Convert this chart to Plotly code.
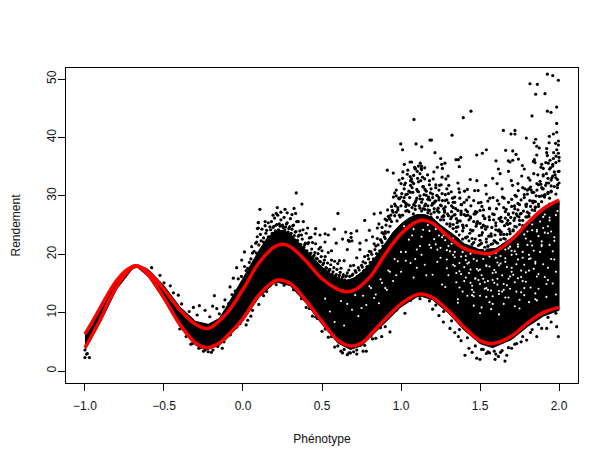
import plotly.graph_objects as go

# Red envelope curves
upper_x = [-1,-0.95,-0.9,-0.85,-0.8,-0.75,-0.7,-0.67,-0.6,-0.5,-0.4,-0.3,-0.22,-0.1,0,0.1,0.2,0.25,0.3,0.4,0.5,0.6,0.65,0.7,0.8,0.9,1.0,1.1,1.15,1.2,1.3,1.4,1.5,1.55,1.6,1.7,1.8,1.9,2.0]
upper_y = [6.3,8.6,11,13.4,15.5,17,17.9,18,17,14,10.5,8,7.3,10,14,18.5,21.3,21.7,21.3,18.8,15.8,14,13.6,13.8,16,20,23.5,25.6,25.8,25.3,23,21,20.2,20.1,20.5,22.5,25.3,27.8,29.3]
lower_x = [-1,-0.95,-0.9,-0.85,-0.8,-0.75,-0.7,-0.67,-0.6,-0.5,-0.4,-0.3,-0.23,-0.15,-0.1,0,0.1,0.2,0.22,0.3,0.4,0.5,0.6,0.68,0.75,0.85,1.0,1.1,1.13,1.2,1.3,1.4,1.5,1.58,1.7,1.8,1.9,2.0]
lower_y = [4.0,6.4,9,11.9,14.4,16.4,17.7,18,16.5,12.5,8,4.8,4.0,4.8,6,9,13,15.4,15.6,15,12,8.5,5.3,4.3,4.8,7.5,11.5,13.1,13.2,12.6,10.3,7.5,5.2,4.7,6,8.2,10,10.9]

# Solid mass of overlapping points: top and bottom edges
mass_top_x = [-1,-0.9,-0.8,-0.7,-0.67,-0.6,-0.5,-0.4,-0.3,-0.22,-0.15,-0.1,-0.05,0,0.05,0.1,0.15,0.2,0.25,0.3,0.35,0.4,0.45,0.5,0.55,0.6,0.65,0.7,0.75,0.8,0.85,0.9,0.95,1.0,1.05,1.1,1.15,1.2,1.25,1.3,1.35,1.4,1.5,1.6,1.7,1.8,1.9,2.0]
mass_top_y = [6.5,11.2,15.7,18.1,18.2,17.4,14.6,11,8.5,8,9,11.2,13.6,15.9,18.2,20.6,22.7,23.9,24.1,23.5,22.1,20.7,19.3,17.8,16.8,15.9,15.5,15.9,16.9,18.3,19.9,21.9,23.8,25.2,26.2,26.8,26.8,26.2,25,24,23,21.8,20.8,21,22.8,25.3,27.6,29.2]
mass_bot_x = [-1,-0.9,-0.8,-0.7,-0.67,-0.6,-0.5,-0.4,-0.3,-0.23,-0.15,-0.1,0,0.1,0.2,0.22,0.3,0.4,0.5,0.6,0.68,0.75,0.85,1.0,1.1,1.13,1.2,1.3,1.4,1.5,1.58,1.7,1.8,1.9,2.0]
mass_bot_y = [3.6,8.5,14,17.5,17.8,16.2,12.2,7.6,4.4,3.6,4.4,5.6,8.6,12.6,15.1,15.2,14.6,11.6,8,4.8,3.7,4.3,7,11,12.7,12.8,12.2,9.9,7,4.7,4,5.4,7.6,9.4,10.4]

# Individually readable points above and below the mass
far_x = [1.926,1.96,1.996,1.816,1.863,1.852,1.911,1.985,1.926,1.949,1.829,1.443,1.394,1.082,1.985,1.648,1.721,1.696,1.721,1.323,1.985,1.964,1.939,1.793,1.852,1.183,1.193,0.998,1.095,1.131,1.01,1.996,1.996,1.937,1.842,1.859,1.875,1.215,1.54,1.515,1.479,1.662,1.707,1.728,1.743,1.679,1.707,1.69,1.922,1.922,1.996,1.981,1.964,1.943,1.916,1.89,1.859,1.844,1.848,1.378,1.363,1.348,1.251,1.278,1.257,1.23,1.262,1.369,1.601,1.616,1.627,1.067,1.057,0.913,0.951,1.021,1.11,1.13,1.15,1.13,1.09]
far_y = [50.85,50.6,49.8,49.2,49.1,47.4,47.5,45.2,44.5,44.3,43.7,44.5,43.4,43.1,42.4,41.2,41.2,40.6,40.6,40.4,40.9,40.6,40.2,39.9,39.7,39.55,39.55,38.9,38.9,38.4,37.9,39.4,38.7,39.1,39.1,38.5,38.2,37.4,37.9,37.3,37,37.8,37.7,37.1,36.3,36,36.1,35.8,38.1,37.4,37.3,36.8,36.4,36.1,35.7,35.4,37,36.2,35.7,36.6,36.2,36.2,36.4,35.6,35.4,34.9,34.7,35,36,34.6,33.8,35.8,35.8,34.4,33.9,35.4,35.1,35.1,34.8,34.5,34.7]

mid_x = [0.92,0.95,0.97,0.99,1.01,1.03,1.05,1.07,1.08,1.1,1.12,1.14,1.16,1.18,1.2,1.22,1.24,1.26,1.28,1.3,1.32,1.34,1.36,1.38,1.4,1.42,1.44,1.46,1.48,1.5,1.52,1.54,1.56,1.58,1.6,1.62,1.64,1.66,1.68,1.7,1.72,1.74,1.76,1.78,1.8,1.82,1.84,1.86,1.88,1.9,1.92,1.94,1.96,1.98,2.0,
0.88,0.91,0.94,0.96,0.98,1.0,1.02,1.04,1.06,1.09,1.11,1.13,1.15,1.17,1.19,1.21,1.23,1.25,1.27,1.29,1.31,1.33,1.35,1.37,1.39,1.41,1.43,1.45,1.47,1.49,1.51,1.53,1.55,1.57,1.59,1.61,1.63,1.65,1.67,1.69,1.71,1.73,1.75,1.77,1.79,1.81,1.83,1.85,1.87,1.89,1.91,1.93,1.95,1.97,1.99,
0.87,0.9,0.93,0.96,0.99,1.02,1.05,1.08,1.11,1.14,1.17,1.2,1.23,1.26,1.29,1.32,1.35,1.38,1.41,1.44,1.47,1.5,1.53,1.56,1.59,1.62,1.65,1.68,1.71,1.74,1.77,1.8,1.83,1.86,1.89,1.92,1.95,1.98,2.0,
0.97,1.0,1.03,1.06,1.09,1.12,1.15,1.18,1.21,1.24,1.27,1.3,1.33,1.36,1.39,1.42,1.45,1.48,1.51,1.54,1.57,1.6,1.63,1.66,1.69,1.72,1.75,1.78,1.81,1.84,1.87,1.9,1.93,1.96,1.99,
1.03,1.07,1.12,1.17,1.22,1.27,1.31,1.36,1.41,1.46,1.5,1.55,1.6,1.65,1.7,1.75,1.8,1.85,1.9,1.95,2.0,1.94,1.88,1.83,1.78,1.73,1.68,1.63,1.58,1.53,1.48,1.43,1.38,1.33,1.28,1.24,1.19,1.14,1.09,1.04]
mid_y = [26.5,27.2,31,29.5,33,30.2,28.4,31.4,33.5,29.6,33.8,31.5,30.1,32.6,28.7,31.9,29.3,33.2,28.1,30.4,27.3,29.8,32.2,26.8,28.9,31.1,26.4,29.2,32.6,27.5,25,30.3,27.8,33,24.9,28.6,31.2,26.2,34.2,29.4,24.8,32.1,27,34.6,30.3,28.2,33.8,31,26.9,34.7,32.2,29.6,35.4,33.1,36,
24.6,25.8,28.2,30.5,28,32.1,29,27.5,32.6,28.3,30.7,28.9,32.9,29.4,31.2,27.8,30,28.4,26.5,31.2,25.2,28,26.1,30.6,25,27.6,29.8,24,26.9,28.8,24.6,26.2,29.1,23.5,26.8,29.2,23.8,28,25.3,23.9,27.1,29.9,25.8,31.4,28.5,26.5,30.6,29,28.2,31.4,30.1,33,31.7,34.1,32.8,
22.5,23.6,26,28.6,26.7,29.7,30.8,28.5,32.4,27.8,28.3,29.7,27.5,26.4,29.3,26.4,24.6,27.4,26.6,24.2,27.3,22.4,24.8,27.9,22.3,24.2,23.4,26.8,24.2,27.6,24.9,27.2,29.1,26.7,30,28.2,30.7,30.3,32.2,
27.2,29.8,28.2,30.6,28.9,29.5,28.3,27.5,28.8,27.2,27.8,26.6,25.1,25.7,24,23,22.7,25.3,23.3,22.1,23.1,22.1,25.7,22.6,25.3,26.2,28.5,29.7,31.2,29.1,31.9,33.6,30.4,33.4,31.4,
28.7,32.4,27.9,27.6,29.1,25.9,23.6,24.7,22.9,22,21.7,21.4,24.2,21.7,21.4,23.7,26.4,28,31.2,32.7,34.2,28.6,24.9,23.9,24.8,26.9,28.9,23.4,21.8,26.1,25.2,25.9,28.5,28.9,30.2,31,26.3,31.6,34.6,33.7]

# Dense speckle hugging the top of the mass on the right
dense_x = [0.88,0.89,0.9,0.905,0.92,0.925,0.93,0.94,0.945,0.96,0.965,0.975,0.98,0.985,0.995,1.0,1.005,1.01,1.015,1.02,1.03,1.035,1.04,1.05,1.055,1.06,1.07,1.075,1.08,1.09,1.095,1.1,1.105,1.115,1.12,1.125,
1.13,1.135,1.14,1.15,1.155,1.16,1.17,1.175,1.18,1.19,1.195,1.2,1.21,1.215,1.22,1.23,1.235,1.24,1.25,1.255,1.26,1.27,1.275,1.28,1.29,1.295,1.3,1.31,1.315,1.32,1.33,1.335,1.34,1.35,1.355,1.36,1.37,1.375,1.38,1.39,1.395,1.4,
1.41,1.415,1.42,1.43,1.435,1.44,1.45,1.455,1.46,1.47,1.475,1.48,1.49,1.495,1.5,1.51,1.515,1.52,1.53,1.535,1.54,1.55,1.555,1.56,1.57,1.575,1.58,1.59,1.595,1.6,1.61,1.615,1.62,1.63,1.635,1.64,1.65,1.655,1.66,1.67,1.675,1.68,1.69,1.695,1.7,
1.71,1.715,1.72,1.73,1.735,1.74,1.75,1.755,1.76,1.77,1.775,1.78,1.79,1.795,1.8,1.81,1.815,1.82,1.83,1.835,1.84,1.85,1.855,1.86,1.87,1.875,1.88,1.89,1.895,1.9,1.91,1.915,1.92,1.93,1.935,1.94,1.95,1.955,1.96,1.97,1.975,1.98,1.99,1.995,2.0]
dense_y = [22,23.5,22.7,25,23.8,26.2,24.8,25.6,27.5,26.6,28.3,25.7,27.6,29.6,26.4,28.3,30.4,26.7,29.1,31.2,27.4,28.6,30.3,27.3,29.7,31.8,28,30.6,32.1,27.7,29.2,31.1,33,28.3,30,32.6,
27.4,29.4,31.6,27.7,28.6,30.8,27.1,29.8,31.9,26.9,28.4,30.3,27.2,29.1,31.4,26.3,27.9,29.7,25.9,28.3,30.4,26.6,27.5,29.2,25.2,26.9,28.8,24.8,26.1,28.3,24.4,26.7,28.9,23.9,25.4,27.5,23.3,25.7,27.1,22.6,24.5,26.8,
22.8,24.9,27.3,22.3,23.6,26.2,21.7,24.1,25.6,22.6,24.8,27.2,21.5,23.2,25.3,21.9,23.7,26.6,21.2,24.3,22.6,21.4,23.1,25.9,21.7,24.6,26.9,22.3,23.3,25.4,21.9,24,26.1,22.5,23.8,25.6,22.7,24.9,27.3,23.4,25.1,26.9,23.5,26.3,28.2,
24,25.8,27.8,24.7,26.6,28.7,25.1,26.9,29.3,25.8,27.4,30.2,26.4,28.6,31,27,29.2,31.5,27.6,28.8,30.6,28.1,30,32.1,28.6,29.9,32.5,29,31.2,33.4,30.2,31.8,33.8,30.6,32.2,34.6,30.8,33.1,35.1,31.6,33.6,35.7,31.9,34.2,36.6]

# Further scattered points across the upper speckle
scatter_x = [0.9,0.935,0.97,1.012,1.028,1.043,1.066,1.086,1.103,1.122,1.136,1.152,1.168,1.186,1.204,1.226,1.244,1.262,1.284,1.302,1.326,1.342,1.366,1.384,1.402,1.424,1.442,1.466,1.484,1.506,1.522,1.546,1.562,1.586,1.604,1.626,1.642,1.666,1.684,1.706,1.722,1.746,1.764,1.784,1.806,1.824,1.846,1.866,1.886,1.906,1.926,1.946,1.966,1.986,
0.915,0.952,0.988,1.022,1.058,1.078,1.106,1.128,1.146,1.164,1.182,1.208,1.232,1.254,1.276,1.298,1.318,1.346,1.372,1.392,1.416,1.438,1.462,1.488,1.512,1.536,1.558,1.582,1.608,1.632,1.652,1.676,1.698,1.718,1.742,1.768,1.792,1.816,1.838,1.862,1.884,1.908,1.932,1.958,1.978,1.994,
0.56,0.59,0.61,0.63,0.66,0.69,0.72,0.74,0.77,0.8,0.83,0.85,0.87,0.43,0.46,0.49,0.52,0.28,0.31,0.24,0.19,0.14]
scatter_y = [23.9,26.7,30,34.1,32.2,34.4,32.9,34.9,34.2,35.6,33.2,31.1,33.6,30.5,32.9,30.1,31.8,29.2,32.9,31.8,29.6,26.8,31.2,28.5,30.8,26.7,28.3,30.9,25.6,28.9,27.6,24.7,29.6,25.9,27.8,24,29.8,27.7,24.3,31.8,30.1,26.4,33.4,31.2,33.1,31,27.5,33.6,34.9,30.1,36.9,34.8,37.4,37.9,
27.6,29.8,32.7,31.9,33.3,26.9,30.8,34.7,30.2,26.5,29.3,34.1,27.4,31.9,27.2,33.4,30.7,27.8,29.6,24.9,29.3,32.8,26.9,30.9,28.2,31.8,26.4,29.7,32.1,26.3,29.6,25.8,32.6,28.3,30.9,35.2,28.2,32.7,35.9,26.2,32,29.8,35.6,27.5,39,28.6,
20.6,21.9,18.9,22.6,20.8,22.3,24,21.9,25.8,24.1,26.9,24.5,27.1,22.9,24.4,21.2,23.5,27.1,26.8,27.2,26.7,25.6]

edge_x = [0.337,0.373,0.107,0.217,0.266,0.323,0.601,0.333,0.21,0.097,0.097,0.54,0.578,0.65,0.684,0.684,0.667,0.673,0.519,0.456,0.487,0.409,0.382,0.35,
0.09,0.12,0.14,0.16,0.18,0.2,0.22,0.24,0.26,0.28,0.3,0.32,0.34,0.36,0.38,0.4,0.42,0.44,0.46,0.48,0.5,0.52,0.54,0.56,0.58,0.6,0.62,0.64,0.66,0.68,0.7,0.72,0.74,0.76,0.78,0.8,0.82,0.84,0.86,0.88,0.9,
0.03,0.06,0.08,0.11,0.13,0.15,0.17,0.19,0.21,0.23,0.25,0.27,0.29,0.31,0.33,0.35,0.37,0.39,0.41,0.43,0.45,0.47,0.49,0.51,0.53,0.55,0.57,0.59,0.61,0.63,0.65,0.67,0.69,0.71,0.73,0.75,0.77,0.79,0.81,0.83,0.85,
0.009,0.055,0.087,-0.04,-0.008,-0.061,-0.082,-0.114,-0.124,0.091,0.097,
-0.181,-0.314,-0.276,-0.24,-0.192,-0.166,-0.409,-0.388,-0.525,-0.578,-0.29,-0.21,-0.15,-0.34,-0.46,-0.5,-0.44,
-0.09,-0.07,-0.05,-0.03,-0.01,0.01,0.02,0.04,0.05,0.07,0.085,0.1,0.115,0.13,0.145,0.16,0.175,0.185,0.195,0.205,0.215,0.225,0.235,0.245,0.255,0.265,0.275,0.285,0.295,0.305,0.315,0.325,0.335,0.345,0.355,0.365,0.375,0.385,0.395,0.405,0.415,0.425,0.435,0.445,0.455,0.465,0.475,0.485,0.495,0.505,0.515,0.525,0.535,0.545,0.555,0.565,0.575,0.585,0.595,0.605,0.615,0.625,0.635,0.645,0.655,0.665,0.675,0.685,0.695,0.705,0.715,0.725,0.735,0.745,0.755,0.765,0.775,0.785,0.795,0.805,0.815,0.825,0.835,0.845,0.855,0.865,0.875,0.885,0.895]
edge_y = [30.5,28.6,27.7,28,27.7,27.85,27,27,27,25.45,24.5,23.3,24.3,23.8,23.6,22.9,22.4,22.2,22.1,23.5,23.3,24.5,25.6,25.6,
23,24.3,24.9,25.4,25.6,26.2,26.7,25.9,26.3,25.4,26.1,25,25.6,24,24.2,23.6,22.8,22,21.8,20.9,20.6,19.6,20.3,19,18.8,18.4,17.6,18.9,16.8,18,18.1,19.4,20.8,18.7,22.4,20.5,23,21.4,25.2,23.7,26,
17.6,20.2,21.9,23.4,22.8,24.1,24.7,24.6,25,25.2,25,24.7,24.4,24.3,23.8,23.1,23.3,21.6,21.8,20.2,19.8,19.2,18.7,18.5,17.6,17.4,17,16.5,16.4,16.1,16.2,17.3,16.4,17.2,17.7,18.1,19.6,19.8,20.4,21.8,22.7,
20.4,21.3,22.1,17.7,19,15.9,14.4,12.2,11,24.4,25.4,
12.9,10.9,11.2,10.4,11.1,10.7,13,11.5,16.4,17.7,9.6,9.3,9.8,10.2,14.6,15.1,13.4,
11.6,13.1,13.7,15.8,16.2,17.9,17.2,18.6,19.2,20.5,20.2,21.6,22.3,22.1,23.6,23,24.2,23.6,24.8,24,25.1,24.2,24.8,23.9,24.6,24.2,25.2,23.8,24.7,23.6,24.9,23.2,23.9,22.4,23.3,21.7,22.6,21.2,21.9,20.6,22,20.1,20.9,19.6,20.3,19.3,20.1,18.8,19.6,18.2,19,17.7,18.5,17.2,18.2,16.6,17.7,16.3,17.4,16,16.9,15.7,16.5,15.6,16.3,15.4,16.2,15.5,16.6,15.8,16.9,16.2,17.3,16.6,17.8,17.2,18.5,17.9,19.2,18.6,20,19.2,20.8,20.1,21.6,20.6,22.3,21.4,23]

below_x = [1.405,1.479,1.5,1.595,1.658,1.616,1.54,1.669,1.732,1.795,1.859,1.996,1.922,1.985,1.363,1.31,1.268,1.025,0.93,0.878,1.56,1.63,1.45,1.7,1.76,1.82,1.89,1.95,1.34,1.38,1.43,1.52,1.6,1.2,1.24,0.9,0.84,0.78,0.72,0.66,0.62,0.58,0.54,0.5,0.46,
-1.0,-0.972,-0.985,-1.0,-0.99,-0.131,-0.019,-0.24,-0.28,-0.2,-0.33,0.02,0.05,0.1,0.17,0.03,0.35,0.4,0.44,0.7,0.63,0.76,0.82,0.67,
0.26,0.32,0.37,0.42,0.47,0.52,0.56,0.6,0.64,0.68,0.72,0.77,0.81,0.87,0.92,0.97,1.02,1.06,1.12,1.18,1.22,1.27,1.32,1.37,1.42,1.47,1.51,1.55,1.59,1.64,1.68,1.72,1.77,1.83,1.87,1.93,1.98,
-0.4,-0.36,-0.32,-0.27,-0.25,-0.22,-0.19,-0.16,-0.12,-0.08,-0.04,0.06,0.13,0.15,0.21]
below_y = [2.7,2.2,2,2,1.7,2.5,3,2.7,4.7,5.3,5.9,5.9,7.3,7.6,5.9,7.3,8.4,9.9,6.7,5.9,3.1,3.2,3.2,3.9,5,6.6,7.3,8.4,6.6,5.2,3.9,3.7,2.9,10.6,9.5,7.6,5.6,3.4,2.9,2.8,3.4,4.1,5.8,6.8,9.3,
2.3,2.3,3,3.6,2.9,3.9,8.1,3.6,3.9,3.2,4.6,7.9,9.4,11.4,14.6,8.7,13.6,10.9,9.4,3.3,3.1,3.4,5.5,3.1,
14.7,13.9,12.4,10.7,9,7.2,5.9,4.3,3.7,3.1,3.6,4.4,6,7.4,9.2,10.4,11.6,12.1,12.4,12,11.3,10.2,8.6,7.1,5.7,4.3,3.7,3.3,3.4,3.5,4,4.6,5.9,7.1,8,9.2,9.9,
7.2,5.9,4.7,4,3.4,3.3,3.6,4.2,5,6.2,7.5,10.4,12.9,13.6,14.8]

# Small gaps left between points inside the mass
gap_x = [0.62,0.66,0.71,0.75,0.8,0.83,0.87,0.9,0.93,0.95,0.98,1.0,1.03,1.06,1.08,1.1,1.13,1.15,1.18,1.2,1.22,1.25,1.27,1.29,1.31,1.33,1.35,1.37,1.39,1.41,1.43,1.45,1.47,1.49,1.5,1.52,1.54,1.56,1.58,1.6,1.62,1.64,1.66,1.68,1.7,1.72,1.74,1.76,1.78,1.8,1.82,1.84,1.86,1.88,1.9,1.92,1.94,1.96,1.98,
1.28,1.3,1.33,1.36,1.38,1.4,1.42,1.44,1.46,1.48,1.5,1.53,1.55,1.57,1.59,1.61,1.63,1.65,1.67,1.69,1.71,1.73,1.75,1.77,1.79,1.81,1.83,1.85,1.87,1.89,1.91,1.93,1.95,
1.02,1.07,1.12,1.17,1.21,1.26,1.32,1.37,1.41,1.45,1.48,1.52,1.56,1.6,1.64,1.68,1.72,1.76,1.8,1.84,1.88,1.92,1.96,
1.34,1.39,1.44,1.47,1.51,1.55,1.59,1.63,1.67,1.7,1.74,1.78,1.82,1.86,1.9,1.94,1.98,
1.36,1.4,1.46,1.5,1.53,1.58,1.62,1.66,1.71,1.75,1.79,1.83,1.87,
1.44,1.49,1.54,1.6,1.65,1.72,1.78,1.85,1.93,1.97,1.91,1.86,1.81,1.76,1.69,
1.09,1.14,1.19,1.24,1.29,1.34,1.38,1.43,1.47,1.51,1.56,1.61,1.66,1.7,1.74,1.79,1.83,1.87,1.91,1.95,1.99,
1.05,1.1,1.16,1.23,1.28,1.35,1.39,1.42,1.46,1.54,1.58,1.62,1.68,1.73,1.77,1.81,1.85,1.89,1.93,1.97,1.0,0.96,0.92,0.88,0.84,0.78,0.73,0.69,
1.22,1.26,1.3,1.34,1.38,1.42,1.46,1.5,1.54,1.58,1.62,1.66,1.7,1.74,1.78,1.82,1.86,1.9,1.94,1.98,
1.25,1.29,1.33,1.37,1.41,1.45,1.49,1.53,1.57,1.61,1.65,1.69,1.73,1.77,1.81,1.85,1.89,1.93,1.97,
1.03,1.08,1.13,1.18,1.23,0.76,0.81,0.86,0.91,0.97,0.64,0.58,0.55,0.52]
gap_y = [12,11.5,13,10.8,14.5,12.5,15.7,14.2,17,15.4,18.8,17,20.4,18.5,16,20.8,23,18.2,24,16.5,21.7,19.4,23.3,17.6,20.5,22.7,15.2,18.5,21.1,19.7,16.8,13.9,20.5,17.2,14.9,19.2,12.7,17.9,15.6,19.4,13.7,16.4,18.7,12.6,19.9,15.2,21.7,13.5,18.2,23.9,14.3,20.6,16.2,25.6,18.3,14.9,26.3,20.5,17,
22.4,16.4,19.9,12.3,23.1,17.8,20.7,15.1,11.2,18.9,12.9,20.8,15.4,10.6,17.3,14.8,19.7,11.5,17.8,14.1,22.8,18.3,12.2,20.4,15.3,11.8,24.1,18.7,14.1,22.2,16.1,23.6,19.2,
24.8,23.2,21.4,25,22.6,14.8,21.8,14.3,19,13,17.5,15.8,11.8,16.9,13.6,21,11.1,16.1,21.6,17.5,20.4,12.7,15,
18,13.6,17.4,15.8,10.9,13.9,15.1,18.4,14.7,17,15.9,14.2,19.3,12.1,24.5,21.6,13.1,
11.7,15.4,12.8,9.9,15.2,12.8,9.7,12.6,16.5,10.7,16.9,21.5,16.6,
20.1,21.1,18.1,20.2,13.9,20.5,13,13.3,24.8,19.1,23.7,24.2,19.2,17.2,21.3,
19.2,24.2,21.1,23.2,20.7,19.5,16.6,18.6,15.9,16.4,19.6,18.6,20.8,17.7,19.1,22.7,25.1,23.1,26.8,23.9,27.4,
22.5,17.7,16.4,20.8,14.4,16.8,20.4,12.9,13.5,14.2,11.5,13.2,15.8,20,15.4,19.9,12.3,21.4,17.7,22.9,20.4,19.2,17.2,15.1,13.1,11.3,9.4,10.5,
24.3,22.9,21.4,20.4,19.6,18.4,19.2,17.4,18,16.8,18.1,19.3,20.6,21.3,23.4,22.2,23.9,26.4,25.8,26.7,
21.1,19.1,18.2,17.1,16,14.6,15.6,14.1,13.8,15.8,14.9,16.2,13.6,19.4,17.2,18.4,21.6,15.6,22.3,
18.9,24.3,19.9,21.6,18.7,12.9,14.2,11.6,13.9,16.4,7.8,8.4,10.2,12.4]

x_ticks = [-1.0,-0.5,0.0,0.5,1.0,1.5,2.0]
x_tick_labels = ["−1.0","−0.5","0.0","0.5","1.0","1.5","2.0"]
y_ticks = [0,10,20,30,40,50]

fig = go.Figure()
fig.add_trace(go.Scatter(x=mass_top_x + mass_bot_x[::-1], y=mass_top_y + mass_bot_y[::-1],
                         mode="lines", fill="toself", fillcolor="black",
                         line=dict(color="black", width=1), hoverinfo="skip"))
for xs, ys in [(far_x, far_y), (mid_x, mid_y), (dense_x, dense_y), (scatter_x, scatter_y), (edge_x, edge_y), (below_x, below_y)]:
    fig.add_trace(go.Scatter(x=xs, y=ys, mode="markers", marker=dict(color="black", size=3.2, line_width=0)))
fig.add_trace(go.Scatter(x=gap_x, y=gap_y, mode="markers", marker=dict(color="white", size=2.1, line_width=0), hoverinfo="skip"))
fig.add_trace(go.Scatter(x=upper_x, y=upper_y, mode="lines", line=dict(color="#ff0000", width=3.5, shape="spline", smoothing=1)))
fig.add_trace(go.Scatter(x=lower_x, y=lower_y, mode="lines", line=dict(color="#ff0000", width=3.5, shape="spline", smoothing=1)))

font = dict(family="Liberation Sans, Arial, sans-serif", size=12, color="#111111")
fig.update_layout(
    width=590, height=440, autosize=False, showlegend=False,
    paper_bgcolor="white", plot_bgcolor="white",
    margin=dict(l=58, r=20, t=60, b=65, pad=0), font=font,
    xaxis=dict(range=[-1.12, 2.12], tickmode="array", tickvals=x_ticks, ticktext=x_tick_labels, automargin=False,
               showgrid=False, zeroline=False, showline=True, mirror=True, linecolor="black", linewidth=1,
               ticks="outside", ticklen=7, tickwidth=1, tickcolor="black", tickfont=font, ticklabelstandoff=5,
               title=dict(text="Phénotype", font=font, standoff=22)),
    yaxis=dict(range=[-2.05, 51.9], tickmode="array", tickvals=y_ticks, tickangle=-90, automargin=False,
               showgrid=False, zeroline=False, showline=True, mirror=True, linecolor="black", linewidth=1,
               ticks="outside", ticklen=7, tickwidth=1, tickcolor="black", tickfont=font, ticklabelstandoff=-3,
               title=dict(text="Rendement", font=font, standoff=22)),
)
fig.write_html("out.html")
